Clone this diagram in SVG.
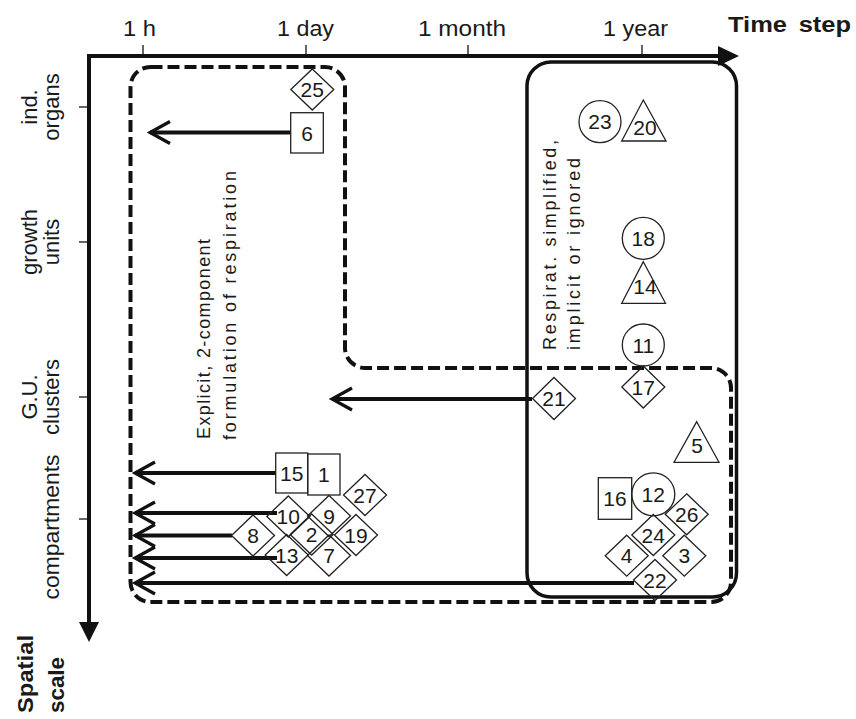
<svg xmlns="http://www.w3.org/2000/svg" width="856" height="719" viewBox="0 0 856 719">
<defs>
<marker id="open" markerUnits="userSpaceOnUse" viewBox="-24 -14 28 28" refX="0" refY="0" markerWidth="28" markerHeight="28" orient="auto">
<path d="M-20,-11 L0,0 L-20,11" fill="none" stroke="#111" stroke-width="3.2"/>
</marker>
</defs>
<style>
text{font-family:"Liberation Sans",Arial,sans-serif;fill:#1a1a1a}
.ax{font-size:22px}
.lbl{font-size:22px;text-anchor:middle}
.b{font-weight:bold}
.n{font-size:21px;text-anchor:middle}
.shape{fill:none;stroke:#222;stroke-width:1.3}
.axis{stroke:#111;stroke-width:4;fill:none}
.tick{stroke:#111;stroke-width:1.3}
.dash{fill:none;stroke:#111;stroke-width:4;stroke-dasharray:12 5}
.solid{fill:none;stroke:#111;stroke-width:3.5}
.arr{stroke:#111;stroke-width:4;marker-end:url(#open)}
.rot{font-size:18px}
</style>
<rect width="856" height="719" fill="#fff"/>

<g id="axes">
<line class="axis" x1="87" y1="56" x2="720" y2="56"/>
<polygon points="718,46 739,56 718,66" fill="#111"/>
<line class="axis" x1="89" y1="54" x2="89" y2="623"/>
<polygon points="79,622 99,622 89,642" fill="#111"/>
<line class="tick" x1="143" y1="45" x2="143" y2="56"/>
<line class="tick" x1="306" y1="45" x2="306" y2="56"/>
<line class="tick" x1="468" y1="45" x2="468" y2="56"/>
<line class="tick" x1="642" y1="45" x2="642" y2="56"/>
<line class="tick" x1="79" y1="107" x2="89" y2="107"/>
<line class="tick" x1="79" y1="242" x2="89" y2="242"/>
<line class="tick" x1="79" y1="397" x2="89" y2="397"/>
<line class="tick" x1="79" y1="519" x2="89" y2="519"/>
<text class="ax" x="123" y="36" textLength="33" lengthAdjust="spacingAndGlyphs">1 h</text>
<text class="ax" x="277" y="36" textLength="57" lengthAdjust="spacingAndGlyphs">1 day</text>
<text class="ax" x="418" y="36" textLength="88" lengthAdjust="spacingAndGlyphs">1 month</text>
<text class="ax" x="603" y="36" textLength="65" lengthAdjust="spacingAndGlyphs">1 year</text>
<text class="ax b" x="728" y="32" word-spacing="4" textLength="123" lengthAdjust="spacingAndGlyphs">Time step</text>
<text class="lbl" transform="translate(37,107) rotate(-90)">ind.</text>
<text class="lbl" transform="translate(59,107) rotate(-90)">organs</text>
<text class="lbl" transform="translate(37,242) rotate(-90)">growth</text>
<text class="lbl" transform="translate(59,242) rotate(-90)">units</text>
<text class="lbl" transform="translate(37,397) rotate(-90)">G.U.</text>
<text class="lbl" transform="translate(59,397) rotate(-90)">clusters</text>
<text class="lbl" transform="translate(59,527) rotate(-90)" textLength="145" lengthAdjust="spacingAndGlyphs">compartments</text>
<text class="ax b" transform="translate(33,713) rotate(-90)" textLength="78" lengthAdjust="spacingAndGlyphs">Spatial</text>
<text class="ax b" transform="translate(64,713) rotate(-90)" textLength="56" lengthAdjust="spacingAndGlyphs">scale</text>
</g>

<g id="regions">
<path class="dash" d="M150.5,67 H325 A20,20 0 0 1 345,87 V348 A20,20 0 0 0 365,368 H711 A20,20 0 0 1 731,388 V582 A20,20 0 0 1 711,602 H150.5 A20,20 0 0 1 130.5,582 V87 A20,20 0 0 1 150.5,67 Z"/>
<rect class="solid" x="527" y="62" width="209.5" height="535" rx="24"/>
<text class="rot" transform="translate(210,439) rotate(-90)" textLength="200" lengthAdjust="spacing">Explicit, 2-component</text>
<text class="rot" transform="translate(236,440) rotate(-90)" textLength="269" lengthAdjust="spacing">formulation of respiration</text>
<text class="rot" transform="translate(556,350) rotate(-90)" textLength="210" lengthAdjust="spacing">Respirat. simplified,</text>
<text class="rot" transform="translate(580,350) rotate(-90)" textLength="192" lengthAdjust="spacing">implicit or ignored</text>
</g>

<g id="connectors">
<line class="arr" x1="291" y1="132.5" x2="150" y2="132.5"/>
<line class="arr" x1="532" y1="399" x2="332" y2="399"/>
<line class="arr" x1="276" y1="473" x2="135" y2="473"/>
<line class="arr" x1="277" y1="513" x2="135" y2="513"/>
<line class="arr" x1="232" y1="535.5" x2="135" y2="535.5"/>
<line class="arr" x1="277" y1="558" x2="135" y2="558"/>
<line class="arr" x1="634" y1="583" x2="135" y2="583"/>
</g>

<g id="n25"><polygon class="shape" points="312.3,69 333.8,89.5 312.3,110 290.8,89.5"/><text class="n" x="312.3" y="97">25</text></g>
<g id="n6"><rect class="shape" x="290.7" y="112.7" width="32.6" height="40.3"/><text class="n" x="307" y="140.5">6</text></g>
<g id="n23"><circle class="shape" cx="600" cy="121.7" r="21"/><text class="n" x="600" y="129.2">23</text></g>
<g id="n20"><polygon class="shape" points="643.3,100 666,141 621.7,141"/><text class="n" x="645" y="135">20</text></g>
<g id="n18"><circle class="shape" cx="643.3" cy="238.3" r="21"/><text class="n" x="643.3" y="245.8">18</text></g>
<g id="n14"><polygon class="shape" points="643.3,261.7 665.5,303.3 621.7,303.3"/><text class="n" x="645" y="294">14</text></g>
<g id="n11"><circle class="shape" cx="643.3" cy="345" r="21"/><text class="n" x="643.3" y="352.5">11</text></g>
<g id="n17"><polygon class="shape" points="643.3,366 664.8,387 643.3,408 621.8,387"/><text class="n" x="643.3" y="394.5">17</text></g>
<g id="n21"><polygon class="shape" points="554,377.5 575.5,398.5 554,419.5 532.5,398.5"/><text class="n" x="554" y="406">21</text></g>
<g id="n5"><polygon class="shape" points="696.7,421.7 719,462.3 674,462.3"/><text class="n" x="697" y="453">5</text></g>
<g id="n15"><rect class="shape" x="275.7" y="453" width="32" height="40"/><text class="n" x="291.7" y="480.5">15</text></g>
<g id="n1"><rect class="shape" x="307.7" y="454" width="32.3" height="41"/><text class="n" x="323.8" y="482">1</text></g>
<g id="n27"><polygon class="shape" points="365,474.5 386.5,495 365,515.5 343.5,495"/><text class="n" x="365" y="502.5">27</text></g>
<g id="n10"><polygon class="shape" points="288.3,496 309.8,516.5 288.3,537 266.8,516.5"/><text class="n" x="288.3" y="524">10</text></g>
<g id="n9"><polygon class="shape" points="329,495.5 350.5,516 329,536.5 307.5,516"/><text class="n" x="329" y="523.5">9</text></g>
<g id="n8"><polygon class="shape" points="253,515 274.5,535.5 253,556 231.5,535.5"/><text class="n" x="253" y="543">8</text></g>
<g id="n2"><polygon class="shape" points="311.7,514 333.2,534.5 311.7,555 290.2,534.5"/><text class="n" x="311.7" y="542">2</text></g>
<g id="n19"><polygon class="shape" points="356,514.5 377.5,535 356,555.5 334.5,535"/><text class="n" x="356" y="542.5">19</text></g>
<g id="n13"><polygon class="shape" points="286.7,534.5 308.2,555 286.7,575.5 265.2,555"/><text class="n" x="286.7" y="562.5">13</text></g>
<g id="n7"><polygon class="shape" points="329,535 350.5,555.5 329,576 307.5,555.5"/><text class="n" x="329" y="563">7</text></g>
<g id="n16"><rect class="shape" x="598.3" y="477.7" width="33.4" height="41.6"/><text class="n" x="615" y="506">16</text></g>
<g id="n12"><circle class="shape" cx="653.3" cy="494.3" r="21.5"/><text class="n" x="653.3" y="501.8">12</text></g>
<g id="n26"><polygon class="shape" points="686.7,493.8 708.2,514.3 686.7,534.8 665.2,514.3"/><text class="n" x="686.7" y="521.8">26</text></g>
<g id="n24"><polygon class="shape" points="653.3,514.5 674.8,535 653.3,555.5 631.8,535"/><text class="n" x="653.3" y="542.5">24</text></g>
<g id="n4"><polygon class="shape" points="626.7,535.2 648.2,555.7 626.7,576.2 605.2,555.7"/><text class="n" x="626.7" y="563.2">4</text></g>
<g id="n3"><polygon class="shape" points="684.3,535.2 705.8,555.7 684.3,576.2 662.8,555.7"/><text class="n" x="684.3" y="563.2">3</text></g>
<g id="n22"><polygon class="shape" points="655,559.5 676.5,580 655,600.5 633.5,580"/><text class="n" x="655" y="587.5">22</text></g>
</svg>
